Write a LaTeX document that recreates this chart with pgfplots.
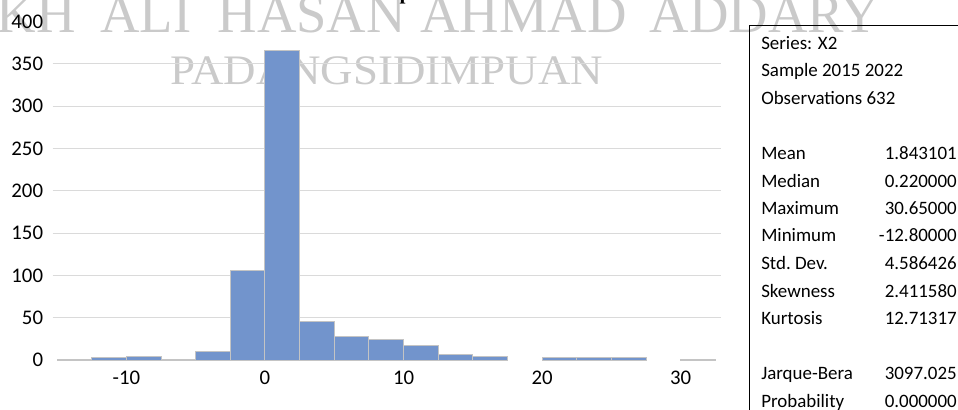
\documentclass[border=0pt]{standalone}
\usepackage{fontspec}
\setmainfont{Carlito}
\newfontfamily\wmfont{Liberation Serif}
\usepackage{pgfplots}
\pgfplotsset{compat=1.18}
\definecolor{barfill}{HTML}{7294CC}
\definecolor{baredge}{HTML}{C4C4C4}
\definecolor{gridc}{HTML}{DADADA}
\definecolor{wm}{HTML}{CACACA}

\begin{document}
\begin{tikzpicture}
\useasboundingbox (0pt,0pt) rectangle (718.5pt,-307.5pt);

% watermark behind the chart
\begin{scope}[every node/.style={anchor=base west, inner sep=0pt, text=wm,
    font=\wmfont\fontsize{41}{41}\selectfont}]
  \node at (-2.5pt,-24.75pt) {KH};
  \node at (75pt,-24.75pt) {ALI};
  \node at (163pt,-24.75pt) {HASAN};
  \node at (315pt,-24.75pt) {AHMAD};
  \node at (487pt,-24.75pt) {ADDARY};
  \node[xscale=1.07, font=\wmfont\fontsize{31.5}{31.5}\selectfont] at (127.5pt,-63.75pt) {PADANGSIDIMPUAN};
\end{scope}
\node[anchor=base west, inner sep=0pt, font=\wmfont\bfseries\fontsize{16}{16}\selectfont]
  at (299.5pt,0.6pt) {p};

\begin{axis}[
  at={(39.5pt,-270pt)}, anchor=south west,
  scale only axis, width=501.2pt, height=253.8pt,
  xmin=-15.32, xmax=32.9, ymin=0, ymax=400,
  axis line style={draw=none},
  tick style={draw=none},
  major tick length=0pt,
  xtick={-10,0,10,20,30},
  xticklabels={-10,0,10,20,30},
  ytick={50,100,...,350},
  yticklabels={50,100,150,200,250,300,350},
  extra y ticks={0,400},
  extra y tick labels={0,400},
  extra y tick style={grid=none},
  ymajorgrids,
  grid style={gridc, line width=0.75pt},
  tick label style={font=\fontsize{15.6}{18}\selectfont, inner sep=0pt},
  yticklabel style={anchor=east, xshift=-7pt},
  xticklabel style={anchor=north, yshift=-8pt},
]
\addplot[ybar, bar width=2.5, bar shift=0pt, fill=barfill, draw=baredge, line width=0.75pt]
  coordinates {
  (-13.75,1) (-11.25,3) (-8.75,4) (-6.25,1) (-3.75,10) (-1.25,106)
  (1.25,366) (3.75,46) (6.25,28) (8.75,24) (11.25,17) (13.75,6)
  (16.25,4) (21.25,3) (23.75,3) (26.25,3) (31.25,1)
  };
\end{axis}

% statistics panel
\draw[black, line width=0.75pt] (561.75pt,-330pt) -- (561.75pt,-19.3pt) -- (740pt,-19.3pt);
\begin{scope}[every node/.style={inner sep=0pt, font=\fontsize{14.2}{16}\selectfont}]
  \node[anchor=base west] at (570.75pt,-37.1pt) {Series: X2};
  \node[anchor=base west] at (570.75pt,-57.75pt) {Sample 2015 2022};
  \node[anchor=base west] at (570.75pt,-78.4pt) {Observations 632};
  \foreach \lab/\val/\y in {Mean/1.843101/119.6, Median/0.220000/140.25,
      Maximum/30.65000/160.9, Minimum/-12.80000/181.5, {Std.\ Dev.}/4.586426/202.1,
      Skewness/2.411580/222.75, Kurtosis/12.71317/243.4,
      Jarque-Bera/3097.025/284.6, Probability/0.000000/305.25} {
    \node[anchor=base west] at (570.75pt,-\y pt) {\lab};
    \node[anchor=base east] at (717.75pt,-\y pt) {\val};
  }
\end{scope}
\end{tikzpicture}
\end{document}
